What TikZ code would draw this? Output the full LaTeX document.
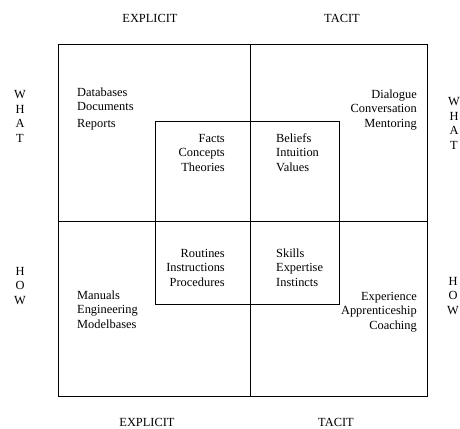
\documentclass[tikz,border=0pt]{standalone}
\usepackage{fontspec}
\setmainfont{Liberation Serif}

\begin{document}
\begin{tikzpicture}[x=1pt,y=-1pt]
	\tikzstyle{every node}=[inner sep=0pt,font=\fontsize{12.4}{14.5}\selectfont]
	\tikzstyle{frame}=[draw=black,line width=0.9pt]
	\tikzstyle{heading}=[anchor=base]
	\tikzstyle{leftlist}=[anchor=base west,align=left]
	\tikzstyle{rightlist}=[anchor=base east,align=right]
	\tikzstyle{letters}=[anchor=base,align=center]
	\useasboundingbox (0,0) rectangle (460,428);
	% outer square and its cross
	\coordinate (nw) at (58,44);
	\coordinate (se) at (427,396);
	\coordinate (top) at (250,44);
	\coordinate (bottom) at (250,396);
	\coordinate (left) at (58,221);
	\coordinate (right) at (427,221);
	\draw[frame] (nw) rectangle (se);
	\draw[frame] (top) -- (bottom);
	\draw[frame] (left) -- (right);
	% inner square
	\coordinate (innw) at (155,121);
	\coordinate (inse) at (339,304);
	\draw[frame] (innw) rectangle (inse);
	% headings (base = last line)
	\node[heading] (explicittop) at (150,23) {EXPLICIT};
	\node[heading] (tacittop) at (342,23) {TACIT};
	\node[heading] (explicitbot) at (147,426) {EXPLICIT};
	\node[heading] (tacitbot) at (336,426) {TACIT};
	\node[letters] (whatleft) at (20,142) {W\\H\\A\\T};
	\node[letters] (whatright) at (454,149) {W\\H\\A\\T};
	\node[letters] (howleft) at (20,304) {H\\O\\W};
	\node[letters] (howright) at (453,314) {H\\O\\W};
	% outer quadrants
	\node[leftlist] (stores) at (77,127) {Databases\\Documents\\[2pt]Reports};
	\node[rightlist] (talk) at (417,127) {Dialogue\\Conversation\\Mentoring};
	\node[leftlist] (manuals) at (77,328) {Manuals\\Engineering\\Modelbases};
	\node[rightlist] (practice) at (417,329) {Experience\\Apprenticeship\\Coaching};
	% inner quadrants
	\node[rightlist] (facts) at (225,171) {Facts\\Concepts\\Theories};
	\node[leftlist] (beliefs) at (276,171) {Beliefs\\Intuition\\Values};
	\node[rightlist] (routines) at (225,286) {Routines\\Instructions\\Procedures};
	\node[leftlist] (skills) at (276,286) {Skills\\Expertise\\Instincts};
\end{tikzpicture}
\end{document}
